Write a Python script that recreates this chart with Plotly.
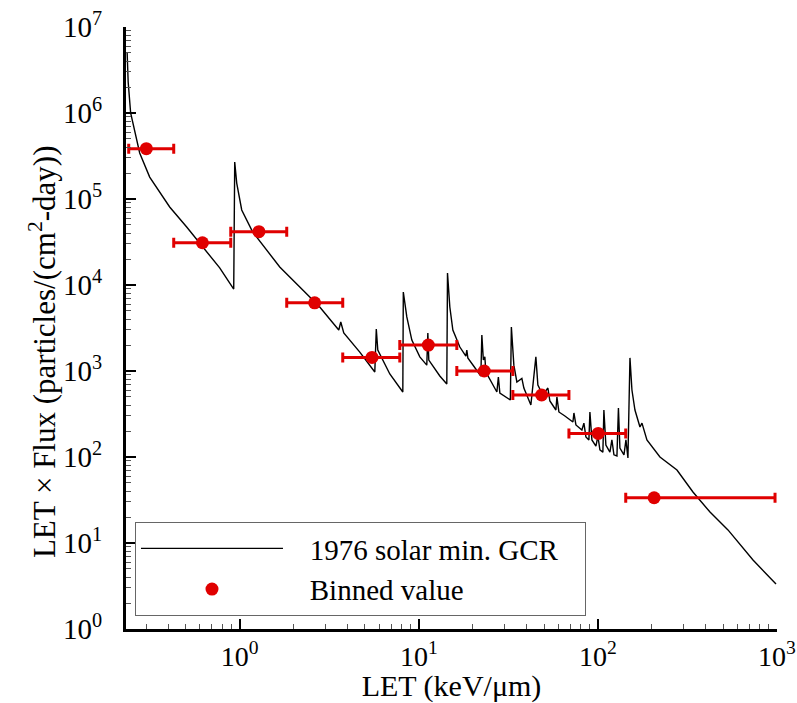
import plotly.graph_objects as go

# ---- GCR spectrum curve (LET in keV/um, LET x Flux in particles/(cm2-day)) ----
let_curve = [0.2352, 0.2383, 0.2460, 0.2590, 0.2763, 0.3142, 0.4064, 0.5057, 0.6214, 0.7731,
             0.9257, 0.9377, 0.9621, 1.026, 1.182, 1.673, 2.164, 2.798, 3.573, 3.666,
             3.811, 4.682, 5.678, 5.788, 5.901, 6.887, 8.140, 8.193, 8.570, 9.141,
             10.13, 11.08, 11.23, 11.37, 13.10, 14.33, 14.46, 14.90, 15.49, 16.95,
             18.31, 18.54, 18.78, 20.55, 22.20, 22.49, 22.93, 23.37, 23.68, 27.28,
             27.81, 28.35, 32.44, 32.87, 33.94, 35.28, 37.62, 38.60, 42.24, 45.04,
             46.22, 49.28, 52.56, 53.93, 58.27, 59.02, 60.55, 65.41, 72.52, 73.46,
             75.37, 81.41, 83.53, 85.70, 89.06, 90.23, 92.58, 97.46, 100.0, 102.6,
             106.6, 108.0, 110.8, 116.7, 119.7, 122.9, 127.7, 130.2, 132.7, 139.8,
             143.4, 147.1, 151.0, 154.9, 161.0, 171.7, 176.2, 187.8, 222.0, 276.3,
             339.4, 422.5, 532.4, 734.5, 987.2]
flux_curve = [4.99e6, 2.29e6, 1.0e6, 6.34e5, 3.43e5, 1.80e5, 8.07e4, 4.73e4, 2.77e4, 1.58e4,
              8.98e3, 2.69e5, 1.53e5, 7.45e4, 4.13e4, 1.62e4, 9.48e3, 5.55e3, 3.00e3, 3.71e3,
              2.77e3, 1.66e3, 973, 3.08e3, 1.75e3, 923, 570, 8.29e3, 4.25e3, 2.29e3,
              1.46e3, 1.17e3, 2.77e3, 1.34e3, 875, 706, 1.38e4, 5.55e3, 3.00e3, 1.90e3,
              1.49e3, 1.75e3, 1.42e3, 1.08e3, 875, 2.62e3, 1.34e3, 1.46e3, 973, 570,
              852, 555, 460, 3.25e3, 1.17e3, 745, 820, 634, 402, 1.46e3,
              687, 526, 634, 448, 352, 499, 334, 300, 255, 325,
              236, 206, 248, 171, 158, 334, 158, 134, 175, 121,
              114, 352, 138, 114, 158, 106, 103, 371, 127, 106,
              158, 97.4, 1.42e3, 601, 352, 223, 248, 158, 100, 70.6,
              39.2, 22.9, 14.2, 6.34, 3.34]

# ---- Binned values ----
bin_let = [0.301, 0.619, 1.28, 2.62, 5.48, 11.3, 23.2, 48.5, 100.4, 206]
bin_value = [3.85e5, 3.1e4, 4.17e4, 6.2e3, 1.44e3, 2.0e3, 1.0e3, 526, 188, 33.6]
bin_lo = [0.24, 0.428, 0.891, 1.83, 3.76, 7.83, 16.3, 33.5, 68.9, 143]
bin_hi = [0.428, 0.891, 1.83, 3.76, 7.83, 16.3, 33.5, 68.9, 143, 975]

x_tick_vals = [1, 10, 100, 1000]
x_tick_text = ["10<sup>0</sup>", "10<sup>1</sup>", "10<sup>2</sup>", "10<sup>3</sup>"]
y_tick_vals = [1, 10, 100, 1e3, 1e4, 1e5, 1e6, 1e7]
y_tick_text = ["10<sup>%d</sup>" % i for i in range(8)]

x_title = "LET (keV/μm)"
y_title = "LET × Flux (particles/(cm<sup>2</sup>-day))"
series_names = ["1976 solar min. GCR", "Binned value"]

FONT = "Liberation Serif"
RED = "#e00000"
NB = "\u00a0"

fig = go.Figure()
fig.add_trace(go.Scatter(
    x=let_curve, y=flux_curve, mode="lines",
    line=dict(color="black", width=1.4),
    name=NB * 3 + series_names[0] + NB * 3,
))
fig.add_trace(go.Scatter(
    x=bin_let, y=bin_value, mode="markers",
    marker=dict(color=RED, size=13),
    error_x=dict(type="data", symmetric=False,
                 array=[h - c for h, c in zip(bin_hi, bin_let)],
                 arrayminus=[c - l for c, l in zip(bin_let, bin_lo)],
                 color=RED, thickness=3, width=5),
    name=NB * 3 + series_names[1],
))

minor_x = [d * 10 ** k for k in range(-1, 3) for d in range(2, 10)]
minor_y = [d * 10 ** k for k in range(0, 7) for d in range(2, 10)]

fig.update_xaxes(
    type="log", range=[-0.635, 3.0], automargin=False,
    showline=True, linecolor="black", linewidth=3, mirror=False,
    showgrid=False, zeroline=False,
    ticks="inside", ticklen=10, tickwidth=2, tickcolor="black",
    tickvals=x_tick_vals, ticktext=x_tick_text, ticklabelstandoff=0,
    ticklabeloverflow="allow",
    tickfont=dict(family=FONT, size=28, color="black"),
    minor=dict(tickmode="array", tickvals=minor_x, ticks="inside", ticklen=5,
               tickwidth=1, tickcolor="#555", showgrid=False),
    title=dict(text=x_title, font=dict(family=FONT, size=30, color="black"), standoff=7),
)
fig.update_yaxes(
    type="log", range=[0, 7], automargin=False,
    showline=True, linecolor="black", linewidth=3, mirror=False,
    showgrid=False, zeroline=False,
    ticks="inside", ticklen=10, tickwidth=2, tickcolor="black",
    tickvals=y_tick_vals, ticktext=y_tick_text, ticklabelstandoff=15,
    ticklabeloverflow="allow",
    tickfont=dict(family=FONT, size=29, color="black"),
    minor=dict(tickmode="array", tickvals=minor_y, ticks="inside", ticklen=5,
               tickwidth=1, tickcolor="#555", showgrid=False),
)

# y-axis title placed slightly below the axis centre, as in the reference
fig.add_annotation(
    text=y_title, textangle=-90, showarrow=False,
    xref="paper", yref="paper", x=-0.129, y=0.46,
    xanchor="center", yanchor="middle",
    font=dict(family=FONT, size=31, color="black"),
)

fig.update_layout(
    width=797, height=703,
    margin=dict(l=126, r=20, t=27, b=74),
    paper_bgcolor="white", plot_bgcolor="white",
    font=dict(family=FONT, size=29, color="black"),
    legend=dict(x=0.0138, y=0.1777, xanchor="left", yanchor="top",
                bgcolor="white", bordercolor="#666", borderwidth=1,
                font=dict(family=FONT, size=29, color="black"),
                itemwidth=142, tracegroupgap=0),
    showlegend=True,
)

fig.write_html("out.html")
